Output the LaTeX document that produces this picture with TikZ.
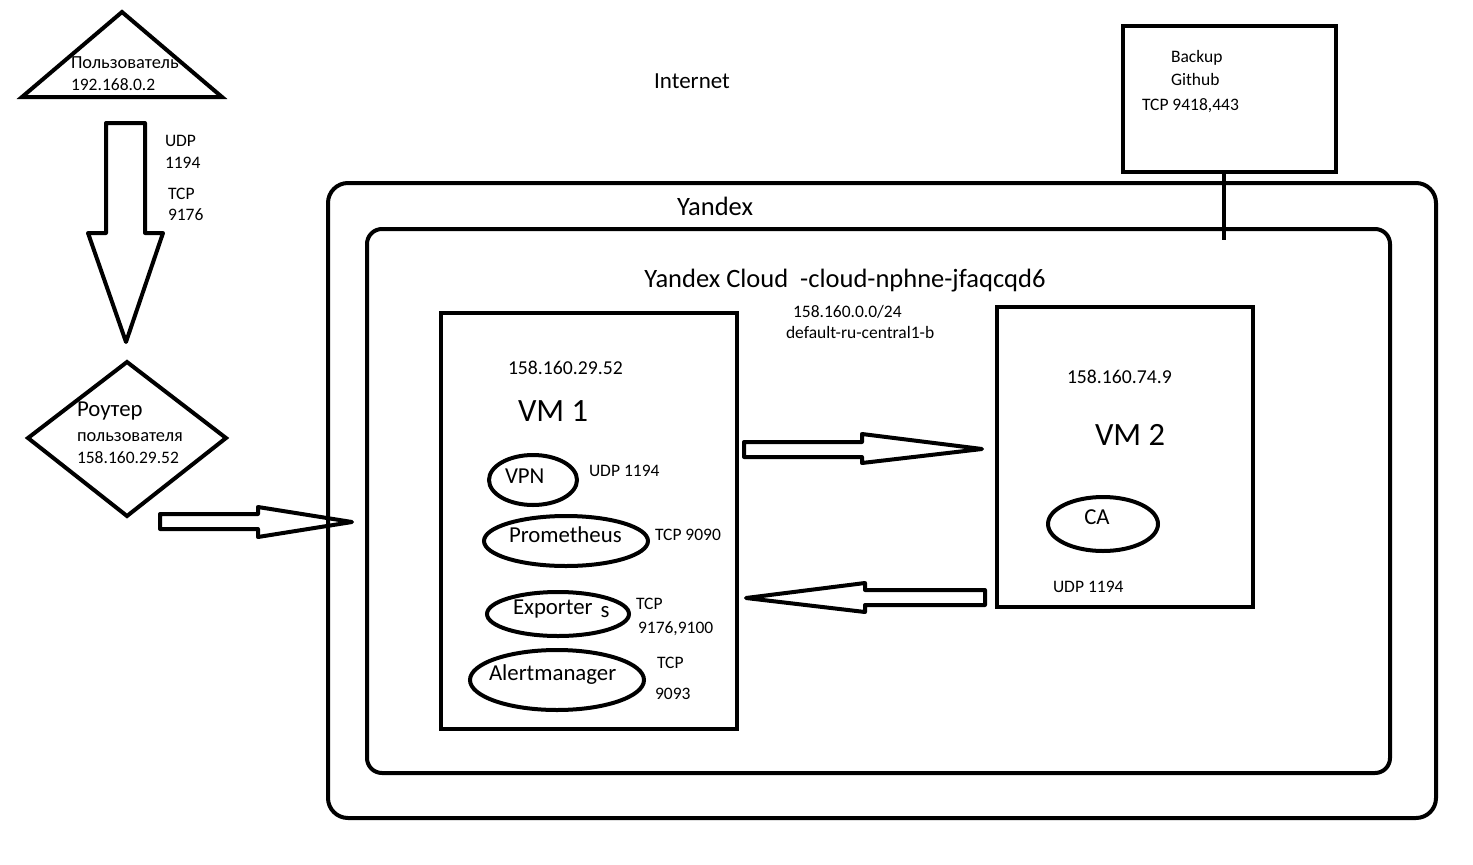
\documentclass[tikz,border=0pt]{standalone}
\usepackage{fontspec}
\setmainfont{Carlito}
\begin{document}
\begin{tikzpicture}[x=1pt,y=-1pt,
  every node/.style={inner sep=0pt,outer sep=0pt},
  thick line/.style={line width=4pt,line join=miter},
  shp/.style={thick line,draw=black},
  ell/.style={draw=black,line width=4pt},
  txt/.style={anchor=west,font=\fontsize{17.5}{21}\selectfont},
  cyr/.style={anchor=west,font=\fontsize{18.4}{22}\selectfont},
  mid/.style={anchor=west,font=\fontsize{22.8}{27}\selectfont},
  ip/.style={anchor=west,font=\fontsize{19.7}{23}\selectfont},
  vm/.style={anchor=west,font=\fontsize{32.5}{38}\selectfont},
  blockarrow/.style={draw=black,line width=4pt,line join=round,fill=white}]
\useasboundingbox (0,0) rectangle (1473,865);
\fill[white] (0,0) rectangle (1473,865);

% user triangle
\draw[shp] (122,12) -- (222,97) -- (22,97) -- cycle;
\node[cyr] (user) at (71,63) {Пользователь};
\node[txt] (userip) at (71,85) {192.168.0.2};

% down block arrow
\draw[blockarrow] (106,123) -- (145,123) -- (145,233) -- (163,233) -- (126,342) -- (88,233) -- (106,233) -- cycle;
\node[txt] (udp1) at (165,141) {UDP};
\node[txt] (udp1n) at (165,163) {1194};
\node[txt] (tcp1) at (168,194) {TCP};
\node[txt] (tcp1n) at (168,215) {9176};

% router diamond
\draw[shp] (127,362) -- (226,438) -- (127,516) -- (28,438) -- cycle;
\node[mid] (router) at (77,411) {Роутер};
\node[cyr] (routeruser) at (77,437) {пользователя};
\node[txt] (routerip) at (77,458) {158.160.29.52};

% router -> yandex arrow
\draw[blockarrow] (160,514) -- (258,514) -- (258,507) -- (352,522) -- (258,537) -- (258,529) -- (160,529) -- cycle;

% Internet
\node[font=\fontsize{23}{27}\selectfont] (internet) at (692,81) {Internet};

% Backup box
\draw[shp] (1123,26) rectangle (1336,172);
\node[txt] (backup) at (1171,58) {Backup};
\node[txt] (github) at (1171,79) {Github};
\node[txt] (backuptcp) at (1142,106) {TCP 9418,443};
\coordinate (bk) at (1224,172);
\coordinate (bkend) at (1224,240);

% Yandex outer
\draw[shp,rounded corners=20pt] (328,183) rectangle (1436,818);
\node[font=\fontsize{26.5}{31}\selectfont] (yandex) at (715,206) {Yandex};

% inner cloud
\draw[shp,rounded corners=15pt] (367,229) rectangle (1390,773);
\node[font=\fontsize{26.5}{31}\selectfont] (cloud) at (845,281) {Yandex Cloud\ \ -cloud-nphne-jfaqcqd6};
\node[txt] (subnet) at (793,312) {158.160.0.0/24};
\node[txt] (zone) at (786,332) {default-ru-central1-b};

\draw[thick line] (bk) -- (bkend);

% VM1
\draw[shp] (441,313) rectangle (737,729);
\node[ip] (vm1ip) at (508,368) {158.160.29.52};
\node[vm] (vm1) at (518,411) {VM 1};

\draw[ell] (533,480) ellipse [x radius=44, y radius=25];
\node[mid] (vpn) at (505,476) {VPN};
\node[txt] (vpnp) at (589,471) {UDP 1194};

\draw[ell] (566,541) ellipse [x radius=82, y radius=25];
\node[mid] (prom) at (509,535) {Prometheus};
\node[txt] (promp) at (655,535) {TCP 9090};

\draw[ell] (558,614) ellipse [x radius=71, y radius=22];
\node[mid] (exp) at (513,609) {Exporter\hspace{8pt}\raisebox{-3pt}{s}};
\node[txt] (expp1) at (636,604) {TCP};
\node[txt] (expp2) at (638,629) {9176,9100};

\draw[ell] (557,680) ellipse [x radius=87, y radius=30];
\node[mid] (alert) at (489,675) {Alertmanager};
\node[txt] (alertp1) at (657,663) {TCP};
\node[txt] (alertp2) at (655,694) {9093};

% VM2
\draw[shp] (997,307) rectangle (1253,607);
\node[ip] (vm2ip) at (1067,377) {158.160.74.9};
\node[vm] (vm2) at (1095,435) {VM 2};
\draw[ell] (1103,524) ellipse [x radius=55, y radius=27];
\node[font=\fontsize{22.8}{27}\selectfont] (ca) at (1097,517) {CA};
\node[txt] (vm2p) at (1053,587) {UDP 1194};

% VM1 -> VM2 arrow
\draw[blockarrow] (744,442) -- (862,442) -- (862,434) -- (982,449) -- (862,463) -- (862,457) -- (744,457) -- cycle;
% VM2 -> VM1 arrow
\draw[blockarrow] (985,590) -- (865,590) -- (865,583) -- (746,598) -- (865,612) -- (865,605) -- (985,605) -- cycle;
\end{tikzpicture}
\end{document}
